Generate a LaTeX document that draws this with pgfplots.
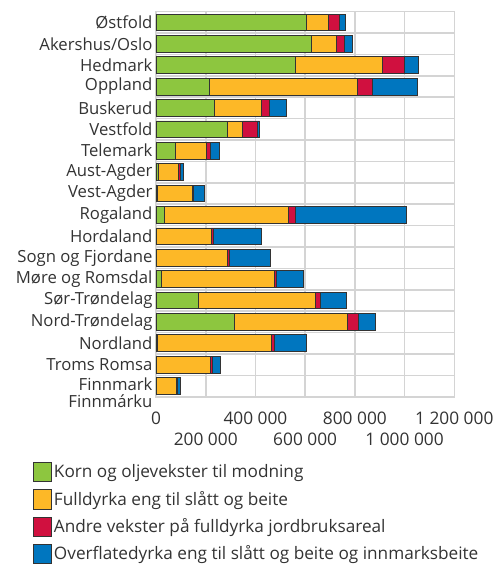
\documentclass[border=0pt]{standalone}
\usepackage{fontspec}
\setmainfont{Open Sans}
\usepackage{pgfplots}
\usepackage{pgfplotstable}
\pgfplotsset{compat=1.18}

\definecolor{korn}{HTML}{8DC63F}
\definecolor{full}{HTML}{FDB827}
\definecolor{andre}{HTML}{D0103F}
\definecolor{over}{HTML}{0076BF}
\definecolor{gridgray}{HTML}{D4D4D4}
\definecolor{txt}{HTML}{333333}

% areal per fylke (dekar): korn, fulldyrka eng, andre vekster, overflatedyrka/innmarksbeite
\pgfplotstableread{
idx korn   full   andre over
0   606700 86700  42700 24000
1   625300 101300 30700 34700
2   560000 350700 86700 60000
3   214700 596000 60000 181300
4   236000 189300 30700 69300
5   285300 64000  58700 9300
6   78700  125300 16000 34700
7   10700  81300  8000  12000
8   6700   140000 4000  44000
9   34700  496000 29300 448000
10  2000   219300 10700 190700
11  2000   283300 9300  166700
12  20000  456000 9300  106700
13  169300 473300 18700 102700
14  317300 453300 44000 69300
15  4000   460000 10700 130700
16  2000   215300 9300  33300
17  1000   80300  4000  14700
}\fylker

\begin{document}
\begin{tikzpicture}
  \begin{axis}[
      scale only axis,
      width=298.3pt, height=385pt,
      xbar stacked,
      bar width=0.78,
      y dir=reverse,
      xmin=0, xmax=1200000,
      ymin=-0.5, ymax=17.5,
      ytick={0,...,17},
      yticklabels={Østfold,Akershus/Oslo,Hedmark,Oppland,Buskerud,Vestfold,Telemark,Aust-Agder,Vest-Agder,Rogaland,Hordaland,Sogn og Fjordane,Møre og Romsdal,Sør-Trøndelag,Nord-Trøndelag,Nordland,Troms Romsa,{\fontsize{16.7}{13.5}\selectfont\raisebox{-13pt}[0pt][0pt]{\begin{tabular}{@{}r@{}}Finnmark\\Finnmárku\end{tabular}}}},
      yticklabel style={font=\fontsize{16.7}{19}\selectfont},
      minor ytick={0.5,1.5,...,16.5},
      yminorgrids=true,
      xmajorgrids=true,
      grid style={draw=gridgray, line width=1.6pt},
      minor grid style={draw=gridgray, line width=1.6pt},
      axis line style={draw=gridgray, line width=1.6pt},
      major tick length=0pt, minor tick length=0pt,
      scaled x ticks=false,
      xtick={0,400000,800000,1200000},
      xticklabels={0,400 000,800 000,1 200 000},
      extra x ticks={200000,600000,1000000},
      extra x tick labels={200 000,600 000,1 000 000},
      extra x tick style={grid=major, tick label style={yshift=-21pt}},
      tick label style={text=txt},
      xticklabel style={font=\fontsize{17.3}{19}\selectfont, yshift=-12pt},
      legend style={at={(rel axis cs:0,0)}, anchor=north west,
        xshift=-126pt, yshift=-63pt, draw=none, fill=none,
        font=\fontsize{17.2}{19}\selectfont, text=txt, row sep=7pt},
      legend cell align=left,
      legend image code/.code={\draw[#1] (0pt,-10pt) rectangle (18pt,9.5pt);},
    ]
    \addplot[fill=korn, draw=black!80, line width=0.8pt] table[x=korn, y=idx] {\fylker};
    \addplot[fill=full, draw=black!80, line width=0.8pt] table[x=full, y=idx] {\fylker};
    \addplot[fill=andre, draw=black!80, line width=0.8pt] table[x=andre, y=idx] {\fylker};
    \addplot[fill=over, draw=black!80, line width=0.8pt] table[x=over, y=idx] {\fylker};
    \legend{Korn og oljevekster til modning,
      Fulldyrka eng til slått og beite,
      Andre vekster på fulldyrka jordbruksareal,
      Overflatedyrka eng til slått og beite og innmarksbeite}
  \end{axis}
  \pgfresetboundingbox
  \path ([xshift=-156pt,yshift=11.7pt]current axis.north west) rectangle ([xshift=342pt,yshift=-552.3pt]current axis.north west);
\end{tikzpicture}
\end{document}
